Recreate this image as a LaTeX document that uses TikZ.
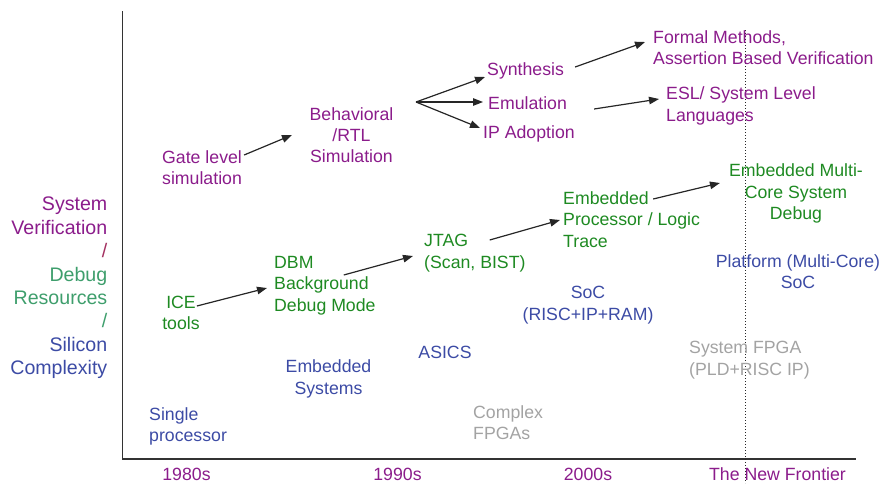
\documentclass[tikz,border=0pt]{standalone}
\usepackage{fontspec}
\setmainfont{Liberation Sans}
\usetikzlibrary{arrows.meta}
\definecolor{vpurple}{HTML}{8B1C8B}
\definecolor{slashr}{HTML}{A33060}
\definecolor{dteal}{HTML}{3E9E6C}
\definecolor{sblue}{HTML}{3C4BA5}
\definecolor{dgreen}{HTML}{1E8A22}
\definecolor{fgray}{HTML}{A3A3A3}
\begin{document}
\begin{tikzpicture}[x=1pt,y=-1pt,
  lbl/.style={inner sep=0pt,font=\fontsize{17.7}{21.3}\selectfont},
  pur/.style={lbl,text=vpurple},
  grn/.style={lbl,text=dgreen},
  blu/.style={lbl,text=sblue},
  gry/.style={lbl,text=fgray},
  arr/.style={-{Triangle[length=10pt,width=7.5pt]},line width=1.2pt,draw=black!85},
  axisline/.style={line width=1.5pt,draw=black!80},
  frontier/.style={line width=0.9pt,draw=black!85,dash pattern=on 1pt off 2pt}]
\useasboundingbox (0,0) rectangle (882,483);
% axes
\draw[axisline] (122.7,11) -- (122.7,459) -- (856,459);
\draw[frontier] (745.7,30) -- (745.7,483);
% left label
\node[lbl,anchor=east,align=right,font=\fontsize{19.6}{23.4}\selectfont] (ylab) at (107.5,288)
  {\textcolor{vpurple}{System}\\\textcolor{vpurple}{Verification}\\\textcolor{slashr}{/}\\\textcolor{dteal}{Debug}\\\textcolor{dteal}{Resources}\\\textcolor{dteal}{/}\\\textcolor{sblue}{Silicon}\\\textcolor{sblue}{Complexity}};
% verification (purple)
\node[pur,anchor=west,align=left] (gate) at (162,168) {Gate level\\simulation};
\node[pur,align=center] (beh) at (351.5,135) {Behavioral\\/RTL\\Simulation};
\node[pur,anchor=west] (syn) at (487,71) {Synthesis};
\node[pur,anchor=west] (emu) at (488,103) {Emulation};
\node[pur,anchor=west] (ipa) at (483,134) {IP Adoption};
\node[pur,anchor=west,align=left] (formal) at (653,48) {Formal Methods,\\Assertion Based Verification};
\node[pur,anchor=west,align=left] (esl) at (666,106) {ESL/ System Level\\Languages};
% debug (green)
\node[grn,align=center] (ice) at (181,313) {ICE\\tools};
\node[grn,anchor=west,align=left] (dbm) at (274,285.5) {DBM\\Background\\Debug Mode};
\node[grn,anchor=west,align=left] (jtag) at (424,253) {JTAG\\(Scan, BIST)};
\node[grn,anchor=west,align=left] (epl) at (563,219.5) {Embedded\\Processor / Logic\\Trace};
\node[grn,align=center] (emc) at (796,193.5) {Embedded Multi-\\Core System\\Debug};
% silicon (blue)
\node[blu,anchor=west,align=left] (single) at (149,426.5) {Single\\processor};
\node[blu,align=center] (embsys) at (328.5,379) {Embedded\\Systems};
\node[blu] (asics) at (445,352) {ASICS};
\node[blu,align=center] (soc) at (588,305) {SoC\\(RISC+IP+RAM)};
\node[blu,align=center] (plat) at (798,272) {Platform (Multi-Core)\\SoC};
% fpga (gray)
\node[gry,anchor=west,align=left] (cfpga) at (473,423) {Complex\\FPGAs};
\node[gry,anchor=west,align=left] (sfpga) at (689,360) {System FPGA\\(PLD+RISC IP)};
% decades
\node[pur] (d80) at (186.5,474.5) {1980s};
\node[pur] (d90) at (397.5,474.5) {1990s};
\node[pur] (d00) at (588,474.5) {2000s};
\node[pur] (dnf) at (777.5,474.5) {The New Frontier};
% arrows
\coordinate (fan) at (416,102);
\draw[arr] ([xshift=2pt,yshift=13pt]gate.east) -- ([xshift=-17.5pt]beh.west);
\draw[line width=1.2pt,draw=black!85] (fan) -- ++(4,0);
\draw[arr] (fan) -- ([xshift=-2pt,yshift=-6pt]syn.west);
\draw[arr] (fan) -- ([xshift=-5pt,yshift=1pt]emu.west);
\draw[arr] (fan) -- ([xshift=-3pt,yshift=6pt]ipa.west);
\draw[arr] ([xshift=11pt,yshift=4pt]syn.east) -- ([xshift=-8pt,yshift=6pt]formal.west);
\draw[arr] ([xshift=27pt,yshift=-6pt]emu.east) -- ([xshift=-7pt,yshift=7pt]esl.west);
\draw[arr] ([xshift=-3pt,yshift=7pt]ice.east) -- ([xshift=-7pt,yshift=-2.5pt]dbm.west);
\draw[arr] ([xshift=-32pt,yshift=10.5pt]dbm.east) -- ([xshift=-11pt,yshift=-3pt]jtag.west);
\draw[arr] ([xshift=-36pt,yshift=13pt]jtag.east) -- ([xshift=-3pt,yshift=-0.5pt]epl.west);
\draw[arr] ([xshift=-47pt,yshift=20.5pt]epl.east) -- ([xshift=-9pt,yshift=10.5pt]emc.west);
\end{tikzpicture}
\end{document}
